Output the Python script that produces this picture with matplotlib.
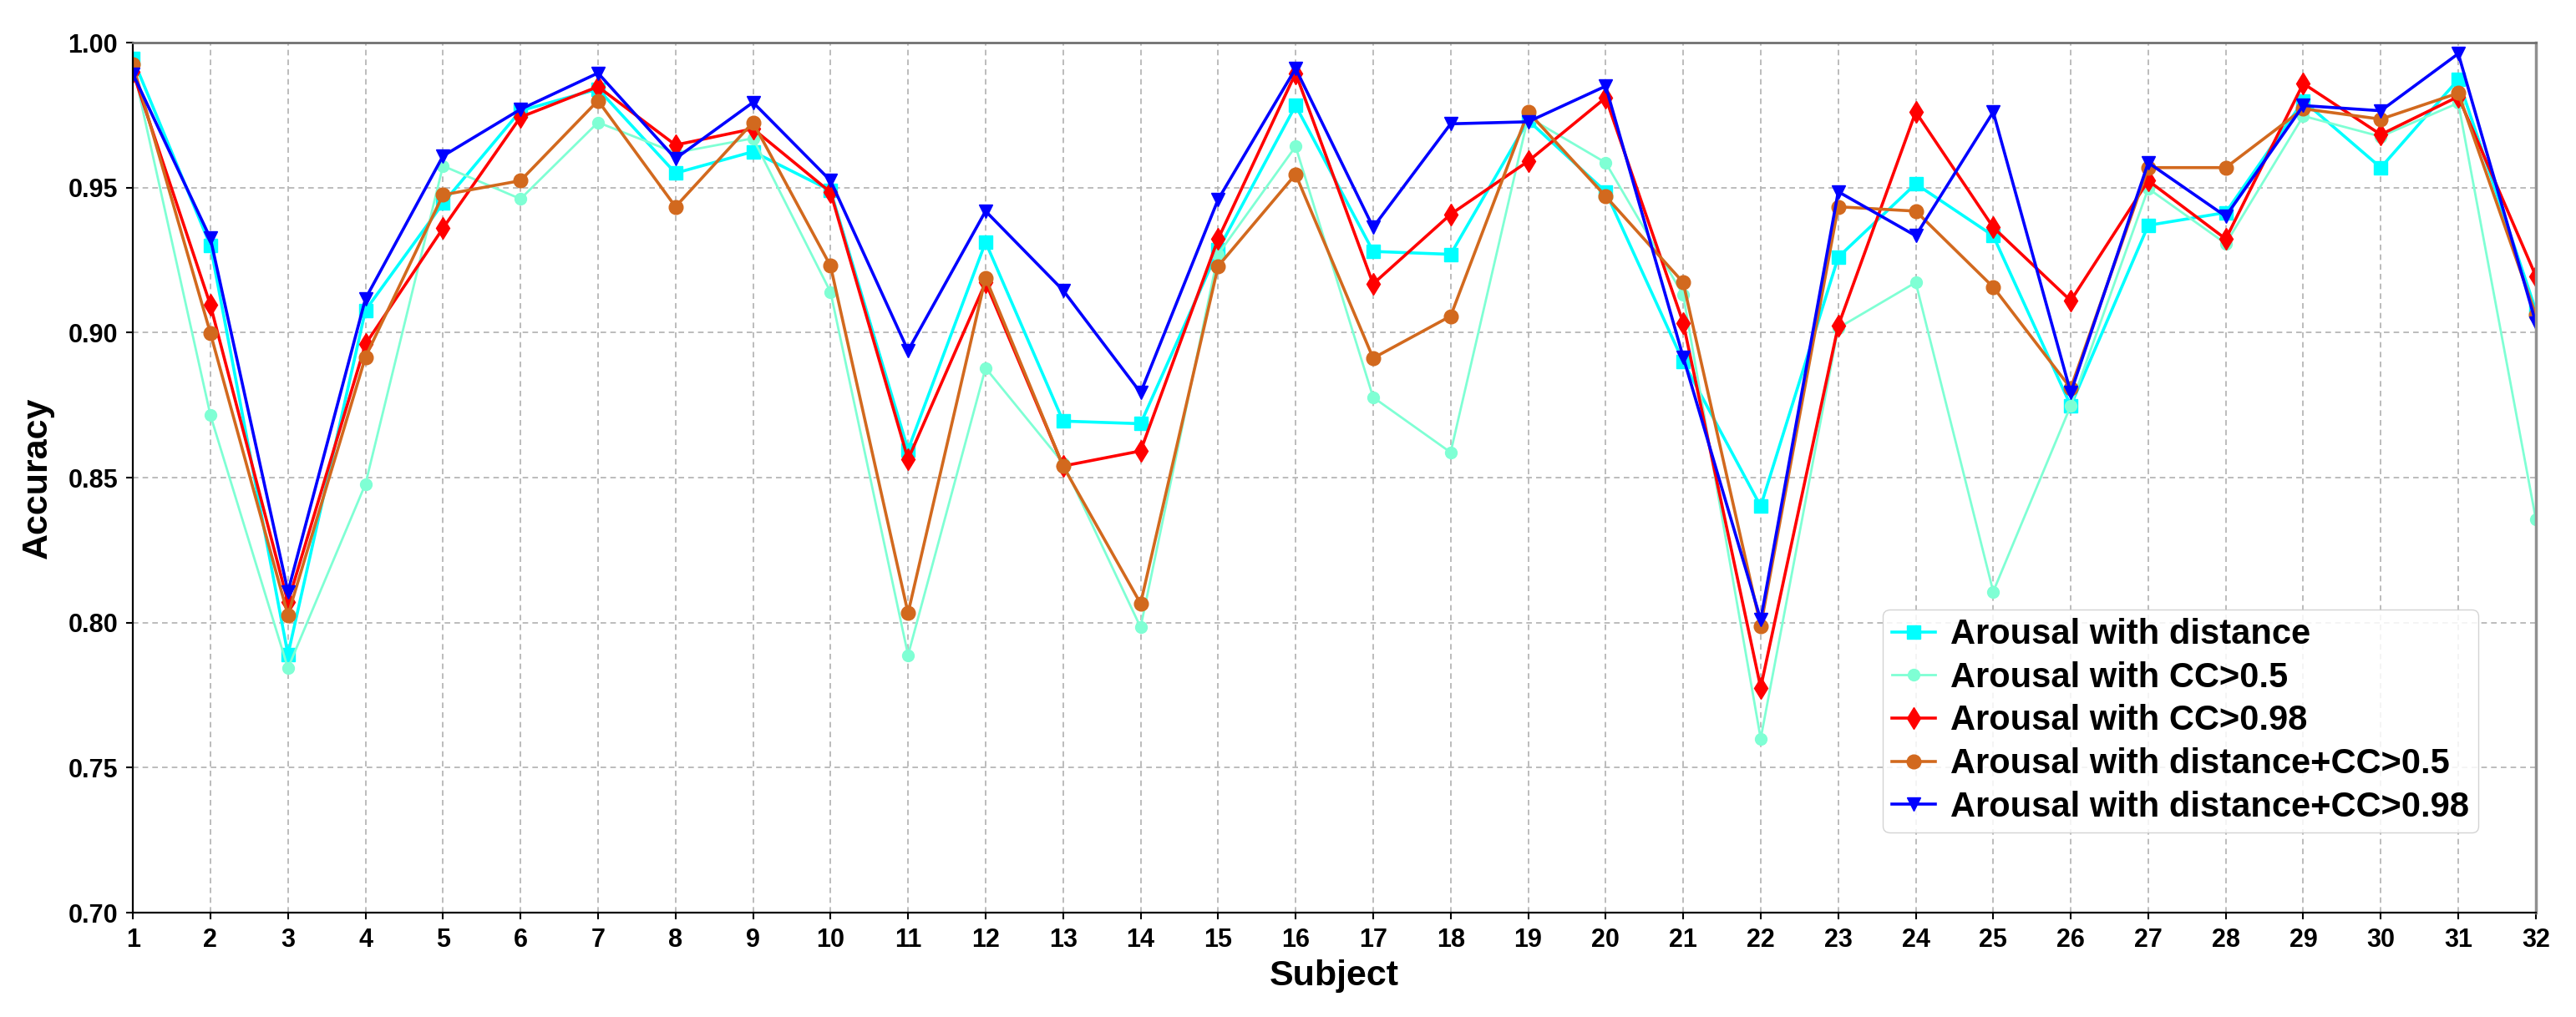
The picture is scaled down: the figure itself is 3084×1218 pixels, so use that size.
import numpy as np
import matplotlib
matplotlib.use('Agg')
import matplotlib.pyplot as plt
from matplotlib.ticker import FormatStrFormatter

plt.rcParams['font.family'] = ['Liberation Sans', 'DejaVu Sans']
plt.rcParams['font.weight'] = 'bold'

# subjects 1..32
subjects = np.arange(1, 33)

# accuracy
acc_dist = [0.9945, 0.9300, 0.7890, 0.9077, 0.9446, 0.9765, 0.9840, 0.9550, 0.9624, 0.9490,
            0.8596, 0.9312, 0.8695, 0.8686, 0.9285, 0.9783, 0.9280, 0.9270, 0.9732, 0.9486, 0.8900,
            0.8401, 0.9260, 0.9513, 0.9334, 0.8748, 0.9370, 0.9414, 0.9799, 0.9569, 0.9873, 0.9077]
acc_cc05 = [0.9920, 0.8715, 0.7843, 0.8478, 0.9575, 0.9461, 0.9725, 0.9620, 0.9670, 0.9140,
            0.7888, 0.8878, 0.8550, 0.7984, 0.9270, 0.9642, 0.8777, 0.8587, 0.9743, 0.9586, 0.9130,
            0.7600, 0.9016, 0.9173, 0.8107, 0.8748, 0.9497, 0.9307, 0.9747, 0.9676, 0.9792, 0.8357]
acc_cc098 = [0.9898, 0.9095, 0.8070, 0.8960, 0.9360, 0.9743, 0.9848, 0.9647, 0.9703, 0.9484,
             0.8563, 0.9173, 0.8540, 0.8592, 0.9323, 0.9895, 0.9168, 0.9408, 0.9591, 0.9810, 0.9034,
             0.7776, 0.9023, 0.9761, 0.9363, 0.9110, 0.9524, 0.9323, 0.9859, 0.9683, 0.9814, 0.9195]
acc_dist_cc05 = [0.9924, 0.8998, 0.8026, 0.8916, 0.9475, 0.9524, 0.9800, 0.9434, 0.9725, 0.9230,
                 0.8033, 0.9189, 0.8540, 0.8066, 0.9229, 0.9546, 0.8912, 0.9057, 0.9761, 0.9470, 0.9173,
                 0.7988, 0.9434, 0.9419, 0.9157, 0.8808, 0.9569, 0.9569, 0.9772, 0.9736, 0.9826, 0.9061]
acc_dist_cc098 = [0.9892, 0.9325, 0.8107, 0.9117, 0.9609, 0.9770, 0.9895, 0.9600, 0.9794, 0.9524,
                  0.8938, 0.9419, 0.9146, 0.8793, 0.9459, 0.9911, 0.9363, 0.9720, 0.9727, 0.9850, 0.8916,
                  0.8010, 0.9486, 0.9334, 0.9761, 0.8793, 0.9586, 0.9401, 0.9783, 0.9765, 0.9962, 0.9034]

labels = ['Arousal with distance', 'Arousal with CC>0.5', 'Arousal with CC>0.98',
          'Arousal with distance+CC>0.5', 'Arousal with distance+CC>0.98']

fig = plt.figure(figsize=(30.84, 12.18), dpi=100)
ax = fig.add_axes([0.0516, 0.1026, 0.9328, 0.8555])

# one call per series
ax.plot(subjects, acc_dist, color='#00FFFF', marker='s', markersize=11, linewidth=2.6, label=labels[0])
ax.plot(subjects, acc_cc05, color='#7FFFD4', marker='o', markersize=10, linewidth=2.0, label=labels[1])
ax.plot(subjects, acc_cc098, color='#FF0000', marker='d', markersize=13, linewidth=2.6, label=labels[2])
ax.plot(subjects, acc_dist_cc05, color='#D2691E', marker='o', markersize=12, linewidth=2.6, label=labels[3])
ax.plot(subjects, acc_dist_cc098, color='#0000FF', marker='v', markersize=12, linewidth=2.6, label=labels[4])

ax.set_xlim(1, 32)
ax.set_ylim(0.70, 1.00)
ax.set_xticks(subjects)
ax.set_yticks(np.arange(0.70, 1.001, 0.05))
ax.yaxis.set_major_formatter(FormatStrFormatter('%.2f'))
ax.tick_params(axis='both', labelsize=22, length=6, width=1.5, pad=7)

ax.grid(True, color='#b0b0b0', linestyle=(0, (4, 3)), linewidth=1.2)
ax.set_axisbelow(True)

# spines: black left/bottom, grey top/right
ax.spines['left'].set_color('black')
ax.spines['bottom'].set_color('black')
ax.spines['left'].set_linewidth(1.6)
ax.spines['bottom'].set_linewidth(1.6)
ax.spines['top'].set_color('#707070')
ax.spines['right'].set_color('#909090')
ax.spines['top'].set_linewidth(2)
ax.spines['right'].set_linewidth(2.5)

ax.set_xlabel('Subject', fontsize=31, fontweight='bold', labelpad=6)
ax.set_ylabel('Accuracy', fontsize=31, fontweight='bold', labelpad=12)

ax.legend(loc='lower right', bbox_to_anchor=(0.976, 0.092), borderaxespad=0,
          fontsize=30, handlelength=1.25, handletextpad=0.45, labelspacing=0.28,
          borderpad=0.25, framealpha=0.85, edgecolor='#cccccc')

plt.savefig('out.png', dpi=100)
